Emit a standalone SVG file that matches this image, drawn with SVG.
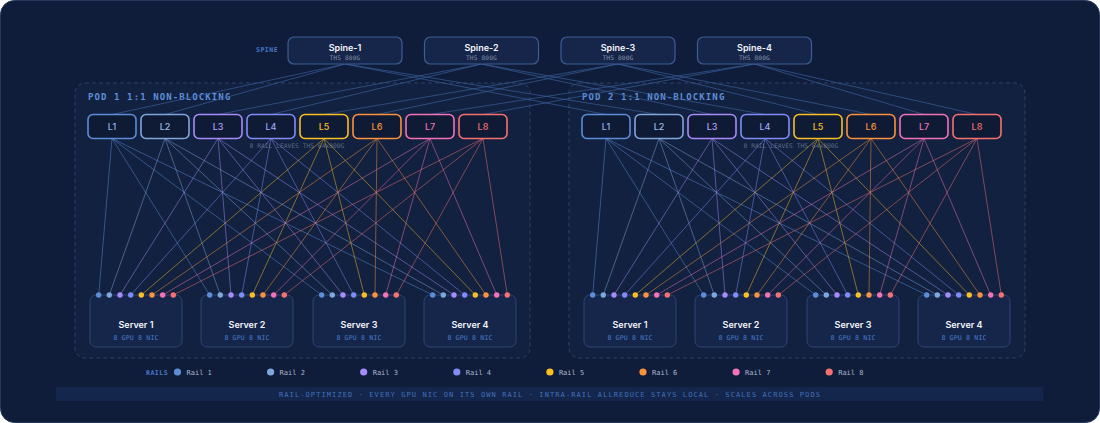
<svg xmlns="http://www.w3.org/2000/svg" width="1100" height="423" viewBox="0 0 1100 423">
<defs>
<style>
.card{fill:#0f1d3b;stroke:#24365a;stroke-width:1}
.pod{fill:#12213f;stroke:#2c4169;stroke-width:1;stroke-dasharray:4 3}
.podt{font-family:"DejaVu Sans Mono",monospace;font-size:9px;font-weight:bold;fill:#5f8fd8;letter-spacing:1.1px}
.spine rect{fill:#16264a;stroke:#3d5d94;stroke-width:1.2}
.sname{font-family:Inter,"Liberation Sans",sans-serif;font-size:9px;font-weight:600;fill:#f2f5fb;text-anchor:middle}
.ssub{font-family:"DejaVu Sans Mono",monospace;font-size:6.2px;fill:#8390a8;text-anchor:middle;letter-spacing:0.15px}
.lbl{font-family:"DejaVu Sans Mono",monospace;font-size:6.5px;font-weight:bold;fill:#4a78c8;letter-spacing:0.5px}
.leaf rect{fill:#0f1a34;stroke-width:1.6}
.ltxt{font-family:Inter,"Liberation Sans",sans-serif;font-size:9px;font-weight:500;text-anchor:middle}
.note{font-family:"DejaVu Sans Mono",monospace;font-size:6.3px;fill:#5d6b85;text-anchor:middle}
.srv rect{fill:#16264a;stroke:#2e4470;stroke-width:1}
.stxt{font-family:Inter,"Liberation Sans",sans-serif;font-size:9px;font-weight:600;fill:#f2f5fb;text-anchor:middle}
.ssub2{font-family:"DejaVu Sans Mono",monospace;font-size:6.5px;fill:#4a7fd0;text-anchor:middle;letter-spacing:0.2px}
.sl{stroke:#3b5c99;stroke-width:1;stroke-opacity:0.7}
.r1{stroke:#5b8dd9;fill:#5b8dd9}.r2{stroke:#7fa6dd;fill:#7fa6dd}.r3{stroke:#a78bfa;fill:#a78bfa}.r4{stroke:#818cf8;fill:#818cf8}
.r5{stroke:#fbbf24;fill:#fbbf24}.r6{stroke:#fb923c;fill:#fb923c}.r7{stroke:#f472b6;fill:#f472b6}.r8{stroke:#f87171;fill:#f87171}
.links line{stroke-width:0.9;stroke-opacity:0.55}
.dot{stroke:none}
.t1{fill:#8fb2ea}.t2{fill:#9dbce8}.t3{fill:#b9a3fb}.t4{fill:#9ea6fa}.t5{fill:#fbbf24}.t6{fill:#fb923c}.t7{fill:#f472b6}.t8{fill:#f87171}
.leg{font-family:"DejaVu Sans Mono",monospace;font-size:7px;fill:#aab6cb}
.foot{fill:#14264c}
.ftxt{font-family:"DejaVu Sans Mono",monospace;font-size:7px;fill:#4470b8;text-anchor:middle;letter-spacing:1.1px}
</style>
</defs>
<rect class="card" x="0.5" y="0.5" width="1099" height="422" rx="14"/>

<g id="pod1"><rect class="pod" x="75" y="83" width="455" height="275" rx="10"/><text class="podt" x="88" y="100">POD 1 1:1 NON-BLOCKING</text><text class="note" x="297" y="148">8 RAIL LEAVES TH5 64x800G</text></g>
<g id="pod2"><rect class="pod" x="569" y="83" width="456" height="275" rx="10"/><text class="podt" x="582" y="100">POD 2 1:1 NON-BLOCKING</text><text class="note" x="791" y="148">8 RAIL LEAVES TH5 64x800G</text></g>

<text class="lbl" x="256" y="52">SPINE</text>

<g id="connectors">
<g id="spine-links">
<line class="sl" x1="345" y1="64" x2="112" y2="114.5"/><line class="sl" x1="345" y1="64" x2="165" y2="114.5"/><line class="sl" x1="345" y1="64" x2="606" y2="114.5"/><line class="sl" x1="345" y1="64" x2="659" y2="114.5"/>
<line class="sl" x1="481.5" y1="64" x2="218" y2="114.5"/><line class="sl" x1="481.5" y1="64" x2="271" y2="114.5"/><line class="sl" x1="481.5" y1="64" x2="712" y2="114.5"/><line class="sl" x1="481.5" y1="64" x2="765" y2="114.5"/>
<line class="sl" x1="618" y1="64" x2="324" y2="114.5"/><line class="sl" x1="618" y1="64" x2="377" y2="114.5"/><line class="sl" x1="618" y1="64" x2="818" y2="114.5"/><line class="sl" x1="618" y1="64" x2="871" y2="114.5"/>
<line class="sl" x1="754.5" y1="64" x2="430" y2="114.5"/><line class="sl" x1="754.5" y1="64" x2="483" y2="114.5"/><line class="sl" x1="754.5" y1="64" x2="924" y2="114.5"/><line class="sl" x1="754.5" y1="64" x2="977" y2="114.5"/>
</g>
<g class="links" id="rail-links-pod1">
<line class="r1" x1="112" y1="138.5" x2="98.7" y2="295"/><line class="r1" x1="112" y1="138.5" x2="209.7" y2="295"/><line class="r1" x1="112" y1="138.5" x2="321.7" y2="295"/><line class="r1" x1="112" y1="138.5" x2="432.7" y2="295"/>
<line class="r2" x1="165" y1="138.5" x2="109.3" y2="295"/><line class="r2" x1="165" y1="138.5" x2="220.3" y2="295"/><line class="r2" x1="165" y1="138.5" x2="332.3" y2="295"/><line class="r2" x1="165" y1="138.5" x2="443.3" y2="295"/>
<line class="r3" x1="218" y1="138.5" x2="120" y2="295"/><line class="r3" x1="218" y1="138.5" x2="231" y2="295"/><line class="r3" x1="218" y1="138.5" x2="343" y2="295"/><line class="r3" x1="218" y1="138.5" x2="454" y2="295"/>
<line class="r4" x1="271" y1="138.5" x2="130.7" y2="295"/><line class="r4" x1="271" y1="138.5" x2="241.7" y2="295"/><line class="r4" x1="271" y1="138.5" x2="353.7" y2="295"/><line class="r4" x1="271" y1="138.5" x2="464.7" y2="295"/>
<line class="r5" x1="324" y1="138.5" x2="141.3" y2="295"/><line class="r5" x1="324" y1="138.5" x2="252.3" y2="295"/><line class="r5" x1="324" y1="138.5" x2="364.3" y2="295"/><line class="r5" x1="324" y1="138.5" x2="475.3" y2="295"/>
<line class="r6" x1="377" y1="138.5" x2="152" y2="295"/><line class="r6" x1="377" y1="138.5" x2="263" y2="295"/><line class="r6" x1="377" y1="138.5" x2="375" y2="295"/><line class="r6" x1="377" y1="138.5" x2="486" y2="295"/>
<line class="r7" x1="430" y1="138.5" x2="162.7" y2="295"/><line class="r7" x1="430" y1="138.5" x2="273.7" y2="295"/><line class="r7" x1="430" y1="138.5" x2="385.7" y2="295"/><line class="r7" x1="430" y1="138.5" x2="496.7" y2="295"/>
<line class="r8" x1="483" y1="138.5" x2="173.3" y2="295"/><line class="r8" x1="483" y1="138.5" x2="284.3" y2="295"/><line class="r8" x1="483" y1="138.5" x2="396.3" y2="295"/><line class="r8" x1="483" y1="138.5" x2="507.3" y2="295"/>
</g>
<g class="links" id="rail-links-pod2">
<line class="r1" x1="606" y1="138.5" x2="592.7" y2="295"/><line class="r1" x1="606" y1="138.5" x2="703.7" y2="295"/><line class="r1" x1="606" y1="138.5" x2="815.7" y2="295"/><line class="r1" x1="606" y1="138.5" x2="926.7" y2="295"/>
<line class="r2" x1="659" y1="138.5" x2="603.3" y2="295"/><line class="r2" x1="659" y1="138.5" x2="714.3" y2="295"/><line class="r2" x1="659" y1="138.5" x2="826.3" y2="295"/><line class="r2" x1="659" y1="138.5" x2="937.3" y2="295"/>
<line class="r3" x1="712" y1="138.5" x2="614" y2="295"/><line class="r3" x1="712" y1="138.5" x2="725" y2="295"/><line class="r3" x1="712" y1="138.5" x2="837" y2="295"/><line class="r3" x1="712" y1="138.5" x2="948" y2="295"/>
<line class="r4" x1="765" y1="138.5" x2="624.7" y2="295"/><line class="r4" x1="765" y1="138.5" x2="735.7" y2="295"/><line class="r4" x1="765" y1="138.5" x2="847.7" y2="295"/><line class="r4" x1="765" y1="138.5" x2="958.7" y2="295"/>
<line class="r5" x1="818" y1="138.5" x2="635.3" y2="295"/><line class="r5" x1="818" y1="138.5" x2="746.3" y2="295"/><line class="r5" x1="818" y1="138.5" x2="858.3" y2="295"/><line class="r5" x1="818" y1="138.5" x2="969.3" y2="295"/>
<line class="r6" x1="871" y1="138.5" x2="646" y2="295"/><line class="r6" x1="871" y1="138.5" x2="757" y2="295"/><line class="r6" x1="871" y1="138.5" x2="869" y2="295"/><line class="r6" x1="871" y1="138.5" x2="980" y2="295"/>
<line class="r7" x1="924" y1="138.5" x2="656.7" y2="295"/><line class="r7" x1="924" y1="138.5" x2="767.7" y2="295"/><line class="r7" x1="924" y1="138.5" x2="879.7" y2="295"/><line class="r7" x1="924" y1="138.5" x2="990.7" y2="295"/>
<line class="r8" x1="977" y1="138.5" x2="667.3" y2="295"/><line class="r8" x1="977" y1="138.5" x2="778.3" y2="295"/><line class="r8" x1="977" y1="138.5" x2="890.3" y2="295"/><line class="r8" x1="977" y1="138.5" x2="1001.3" y2="295"/>
</g>
</g>

<g id="spine-1" class="spine"><rect x="288" y="37" width="114" height="27" rx="6"/><text class="sname" x="345" y="51">Spine-1</text><text class="ssub" x="345" y="60">TH5 800G</text></g>
<g id="spine-2" class="spine"><rect x="424.5" y="37" width="114" height="27" rx="6"/><text class="sname" x="481.5" y="51">Spine-2</text><text class="ssub" x="481.5" y="60">TH5 800G</text></g>
<g id="spine-3" class="spine"><rect x="561" y="37" width="114" height="27" rx="6"/><text class="sname" x="618" y="51">Spine-3</text><text class="ssub" x="618" y="60">TH5 800G</text></g>
<g id="spine-4" class="spine"><rect x="697.5" y="37" width="114" height="27" rx="6"/><text class="sname" x="754.5" y="51">Spine-4</text><text class="ssub" x="754.5" y="60">TH5 800G</text></g>

<g id="p1-leaves">
<g id="p1-L1" class="leaf"><rect class="r1" style="fill:#0f1a34" x="88" y="114.5" width="48" height="24" rx="5"/><text class="ltxt t1" x="112" y="129.7">L1</text></g>
<g id="p1-L2" class="leaf"><rect class="r2" style="fill:#0f1a34" x="141" y="114.5" width="48" height="24" rx="5"/><text class="ltxt t2" x="165" y="129.7">L2</text></g>
<g id="p1-L3" class="leaf"><rect class="r3" style="fill:#0f1a34" x="194" y="114.5" width="48" height="24" rx="5"/><text class="ltxt t3" x="218" y="129.7">L3</text></g>
<g id="p1-L4" class="leaf"><rect class="r4" style="fill:#0f1a34" x="247" y="114.5" width="48" height="24" rx="5"/><text class="ltxt t4" x="271" y="129.7">L4</text></g>
<g id="p1-L5" class="leaf"><rect class="r5" style="fill:#0f1a34" x="300" y="114.5" width="48" height="24" rx="5"/><text class="ltxt t5" x="324" y="129.7">L5</text></g>
<g id="p1-L6" class="leaf"><rect class="r6" style="fill:#0f1a34" x="353" y="114.5" width="48" height="24" rx="5"/><text class="ltxt t6" x="377" y="129.7">L6</text></g>
<g id="p1-L7" class="leaf"><rect class="r7" style="fill:#0f1a34" x="406" y="114.5" width="48" height="24" rx="5"/><text class="ltxt t7" x="430" y="129.7">L7</text></g>
<g id="p1-L8" class="leaf"><rect class="r8" style="fill:#0f1a34" x="459" y="114.5" width="48" height="24" rx="5"/><text class="ltxt t8" x="483" y="129.7">L8</text></g>
</g>
<g id="p2-leaves">
<g id="p2-L1" class="leaf"><rect class="r1" style="fill:#0f1a34" x="582" y="114.5" width="48" height="24" rx="5"/><text class="ltxt t1" x="606" y="129.7">L1</text></g>
<g id="p2-L2" class="leaf"><rect class="r2" style="fill:#0f1a34" x="635" y="114.5" width="48" height="24" rx="5"/><text class="ltxt t2" x="659" y="129.7">L2</text></g>
<g id="p2-L3" class="leaf"><rect class="r3" style="fill:#0f1a34" x="688" y="114.5" width="48" height="24" rx="5"/><text class="ltxt t3" x="712" y="129.7">L3</text></g>
<g id="p2-L4" class="leaf"><rect class="r4" style="fill:#0f1a34" x="741" y="114.5" width="48" height="24" rx="5"/><text class="ltxt t4" x="765" y="129.7">L4</text></g>
<g id="p2-L5" class="leaf"><rect class="r5" style="fill:#0f1a34" x="794" y="114.5" width="48" height="24" rx="5"/><text class="ltxt t5" x="818" y="129.7">L5</text></g>
<g id="p2-L6" class="leaf"><rect class="r6" style="fill:#0f1a34" x="847" y="114.5" width="48" height="24" rx="5"/><text class="ltxt t6" x="871" y="129.7">L6</text></g>
<g id="p2-L7" class="leaf"><rect class="r7" style="fill:#0f1a34" x="900" y="114.5" width="48" height="24" rx="5"/><text class="ltxt t7" x="924" y="129.7">L7</text></g>
<g id="p2-L8" class="leaf"><rect class="r8" style="fill:#0f1a34" x="953" y="114.5" width="48" height="24" rx="5"/><text class="ltxt t8" x="977" y="129.7">L8</text></g>
</g>

<defs>
<g id="nics">
<circle class="dot r1" cx="-37.3" cy="0" r="2.7"/><circle class="dot r2" cx="-26.7" cy="0" r="2.7"/><circle class="dot r3" cx="-16" cy="0" r="2.7"/><circle class="dot r4" cx="-5.3" cy="0" r="2.7"/>
<circle class="dot r5" cx="5.3" cy="0" r="2.7"/><circle class="dot r6" cx="16" cy="0" r="2.7"/><circle class="dot r7" cx="26.7" cy="0" r="2.7"/><circle class="dot r8" cx="37.3" cy="0" r="2.7"/>
</g>
</defs>

<g id="p1-servers">
<g id="p1-server-1" class="srv"><rect x="90" y="295" width="92" height="52" rx="6"/><use href="#nics" x="136" y="295"/><text class="stxt" x="136" y="327.5">Server 1</text><text class="ssub2" x="136" y="339.5">8 GPU 8 NIC</text></g>
<g id="p1-server-2" class="srv"><rect x="201" y="295" width="92" height="52" rx="6"/><use href="#nics" x="247" y="295"/><text class="stxt" x="247" y="327.5">Server 2</text><text class="ssub2" x="247" y="339.5">8 GPU 8 NIC</text></g>
<g id="p1-server-3" class="srv"><rect x="313" y="295" width="92" height="52" rx="6"/><use href="#nics" x="359" y="295"/><text class="stxt" x="359" y="327.5">Server 3</text><text class="ssub2" x="359" y="339.5">8 GPU 8 NIC</text></g>
<g id="p1-server-4" class="srv"><rect x="424" y="295" width="92" height="52" rx="6"/><use href="#nics" x="470" y="295"/><text class="stxt" x="470" y="327.5">Server 4</text><text class="ssub2" x="470" y="339.5">8 GPU 8 NIC</text></g>
</g>
<g id="p2-servers">
<g id="p2-server-1" class="srv"><rect x="584" y="295" width="92" height="52" rx="6"/><use href="#nics" x="630" y="295"/><text class="stxt" x="630" y="327.5">Server 1</text><text class="ssub2" x="630" y="339.5">8 GPU 8 NIC</text></g>
<g id="p2-server-2" class="srv"><rect x="695" y="295" width="92" height="52" rx="6"/><use href="#nics" x="741" y="295"/><text class="stxt" x="741" y="327.5">Server 2</text><text class="ssub2" x="741" y="339.5">8 GPU 8 NIC</text></g>
<g id="p2-server-3" class="srv"><rect x="807" y="295" width="92" height="52" rx="6"/><use href="#nics" x="853" y="295"/><text class="stxt" x="853" y="327.5">Server 3</text><text class="ssub2" x="853" y="339.5">8 GPU 8 NIC</text></g>
<g id="p2-server-4" class="srv"><rect x="918" y="295" width="92" height="52" rx="6"/><use href="#nics" x="964" y="295"/><text class="stxt" x="964" y="327.5">Server 4</text><text class="ssub2" x="964" y="339.5">8 GPU 8 NIC</text></g>
</g>

<g id="legend">
<text class="lbl" x="146" y="374.5">RAILS</text>
<circle class="dot r1" cx="177.5" cy="372" r="3.6"/><text class="leg" x="186.5" y="374.5">Rail 1</text>
<circle class="dot r2" cx="270.6" cy="372" r="3.6"/><text class="leg" x="279.6" y="374.5">Rail 2</text>
<circle class="dot r3" cx="363.7" cy="372" r="3.6"/><text class="leg" x="372.7" y="374.5">Rail 3</text>
<circle class="dot r4" cx="456.8" cy="372" r="3.6"/><text class="leg" x="465.8" y="374.5">Rail 4</text>
<circle class="dot r5" cx="549.9" cy="372" r="3.6"/><text class="leg" x="558.9" y="374.5">Rail 5</text>
<circle class="dot r6" cx="643" cy="372" r="3.6"/><text class="leg" x="652" y="374.5">Rail 6</text>
<circle class="dot r7" cx="736.1" cy="372" r="3.6"/><text class="leg" x="745.1" y="374.5">Rail 7</text>
<circle class="dot r8" cx="829.2" cy="372" r="3.6"/><text class="leg" x="838.2" y="374.5">Rail 8</text>
</g>

<g id="footer">
<rect class="foot" x="56" y="387" width="987" height="14"/>
<text class="ftxt" x="550" y="396.5">RAIL-OPTIMIZED · EVERY GPU NIC ON ITS OWN RAIL · INTRA-RAIL ALLREDUCE STAYS LOCAL · SCALES ACROSS PODS</text>
</g>
</svg>
